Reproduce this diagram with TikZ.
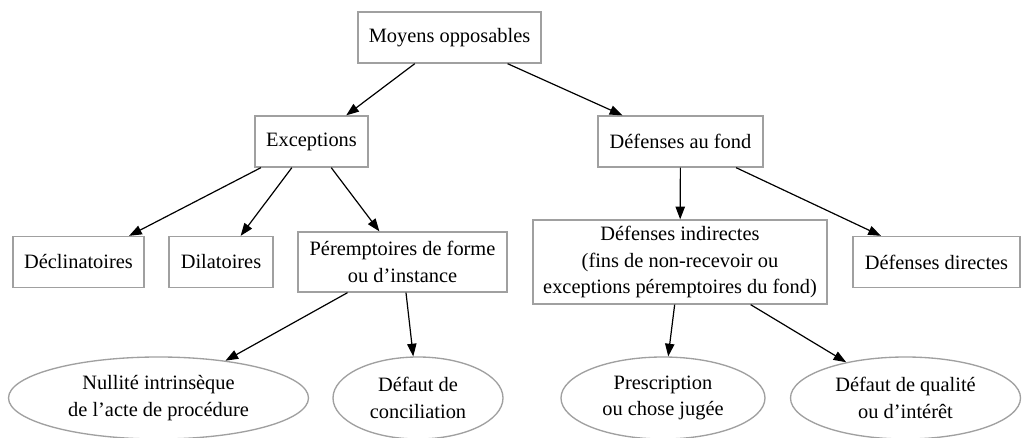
\documentclass[tikz,border=0pt]{standalone}
\usepackage{fontspec}
\setmainfont{Liberation Serif}
\usetikzlibrary{shapes.geometric,arrows.meta}
\definecolor{bordergray}{RGB}{160,160,160}
\tikzset{
  box/.style={draw=bordergray, line width=1pt, rectangle, align=center, inner sep=2pt,
    font=\fontsize{15.3}{19.8}\selectfont, minimum height=38.25pt},
  oval/.style={draw=bordergray, line width=1pt, ellipse, align=center, inner sep=0pt,
    font=\fontsize{15.3}{19.8}\selectfont, minimum height=61.5pt},
  arr/.style={draw=black, line width=0.9pt, -{Triangle[length=9.5pt,width=7pt]}}
}
\begin{document}
\begin{tikzpicture}[x=0.75pt,y=-0.75pt]
\fill[white] (0,0) rectangle (1022,438);
\useasboundingbox (0,0) rectangle (1022,438);
\node[box, minimum width=137.25pt] (m) at (449.5,37.5) {Moyens opposables};
\node[box, minimum width=84.75pt] (e) at (311.5,141.5) {Exceptions};
\node[box, minimum width=123.75pt] (f) at (680.5,141.5) {Défenses au fond};
\node[box, minimum width=98.25pt] (dec) at (78.5,262) {Déclinatoires};
\node[box, minimum width=78pt] (dil) at (221,262) {Dilatoires};
\node[box, minimum width=156.75pt, minimum height=45pt] (per) at (402.5,262) {Péremptoires de forme\\ou d’instance};
\node[box, minimum width=220.5pt, minimum height=63pt] (di) at (680,262) {Défenses indirectes\\(fins de non-recevoir ou\\exceptions péremptoires du fond)};
\node[box, minimum width=125.25pt] (dd) at (936.5,262) {Défenses directes};
\node[oval, minimum width=225pt] (nul) at (158.5,398) {Nullité intrinsèque\\de l’acte de procédure};
\node[oval, minimum width=127.5pt] (con) at (418,398) {Défaut de\\conciliation};
\node[oval, minimum width=153pt] (pre) at (663,398) {Prescription\\ou chose jugée};
\node[oval, minimum width=172.5pt] (qua) at (905.5,398) {Défaut de qualité\\ou d’intérêt};
\draw[arr] (m) -- (e);
\draw[arr] (m) -- (f);
\draw[arr] (e) -- (dec);
\draw[arr] (e) -- (dil);
\draw[arr] (e) -- (per);
\draw[arr] (f) -- (di);
\draw[arr] (f) -- (dd);
\draw[arr] (per) -- (nul);
\draw[arr] (per) -- (con);
\draw[arr] (di) -- (pre);
\draw[arr] (di) -- (qua);
\end{tikzpicture}
\end{document}
